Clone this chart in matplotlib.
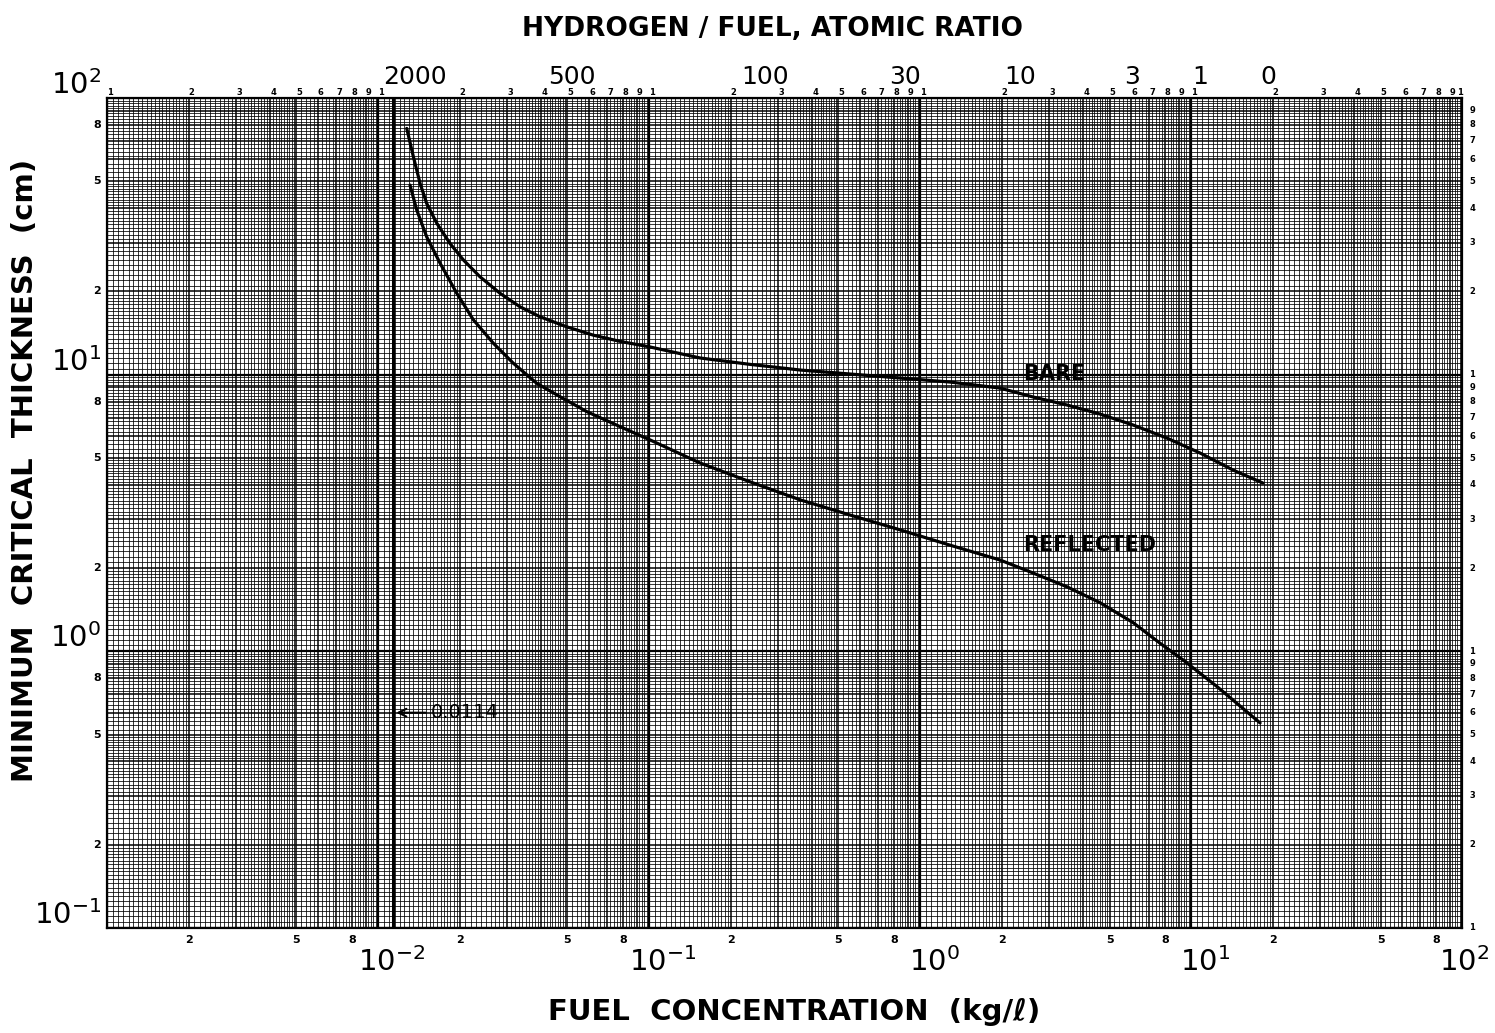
import numpy as np
import matplotlib
matplotlib.use('Agg')
import matplotlib.pyplot as plt

# critical thickness of an infinite slab vs fuel concentration
conc_bare = [0.01276, 0.01350, 0.01429, 0.01512, 0.01647, 0.01844, 0.02065,
             0.02378, 0.02819, 0.03342, 0.03961, 0.0497, 0.0623, 0.0782,
             0.1009, 0.154, 0.236, 0.361, 0.552, 0.843, 1.29, 1.97, 2.61,
             3.49, 4.61, 6.11, 8.15, 10.8, 14.3, 18.4]
thick_bare = [77.7, 61.4, 49.2, 41.6, 35.3, 29.8, 26.0,
              22.6, 19.7, 17.6, 16.2, 14.9, 13.9, 13.2,
              12.6, 11.5, 10.9, 10.4, 10.06, 9.73, 9.41, 8.95, 8.31,
              7.77, 7.21, 6.58, 5.90, 5.21, 4.52, 4.06]

conc_refl = [0.01312, 0.01389, 0.01512, 0.01694, 0.01952, 0.02247, 0.02663,
             0.03157, 0.03851, 0.04694, 0.059, 0.0782, 0.1009, 0.154, 0.236,
             0.361, 0.552, 0.843, 1.29, 1.97, 2.61, 3.49, 4.61, 6.11, 7.68,
             9.34, 12.5, 17.97]
thick_refl = [48.5, 39.4, 31.5, 25.3, 19.7, 15.8, 13.0,
              11.0, 9.31, 8.33, 7.35, 6.49, 5.81, 4.80, 4.10,
              3.53, 3.11, 2.75, 2.42, 2.14, 1.92, 1.71, 1.50, 1.27, 1.07,
              0.931, 0.744, 0.551]

# H/fuel atomic ratio scale along the top
ratio_labels = ['2000', '500', '100', '30', '10', '3', '1', '0']
ratio_conc = [0.0137, 0.052, 0.268, 0.88, 2.34, 6.05, 10.8, 19.2]

c_min = 0.0114
c_min_label = '0.0114'


def paper_lines(lo, hi):
    fine, heavy, decade = [], [], []
    for d in range(lo, hi):
        base = 10.0 ** d
        decade.append(base)
        for a, b, s in [(1, 2, 0.05), (2, 5, 0.1), (5, 10, 0.2)]:
            for m in np.round(np.arange(a, b, s), 2):
                if m == 1:
                    continue
                if abs(m - round(m)) < 1e-9:
                    heavy.append(m * base)
                else:
                    fine.append(m * base)
    decade.append(10.0 ** hi)
    return fine, heavy, decade


fig = plt.figure(figsize=(14.95, 10.33), dpi=100)
ax = fig.add_axes([0.0716, 0.1017, 0.9064, 0.8033])
ax.set_xscale('log')
ax.set_yscale('log')
ax.set_xlim(1e-3, 1e2)
ax.set_ylim(1e-1, 1e2)

xf, xh, xd = paper_lines(-3, 2)
yf, yh, yd = paper_lines(-1, 2)
ax.vlines(xf, 0.1, 100, color='k', lw=0.55)
ax.vlines(xh, 0.1, 100, color='k', lw=1.1)
ax.vlines(xd, 0.1, 100, color='k', lw=1.6)
ax.hlines(yf, 1e-3, 1e2, color='k', lw=0.55)
ax.hlines(yh, 1e-3, 1e2, color='k', lw=1.1)
ax.hlines(yd, 1e-3, 1e2, color='k', lw=1.6)

ax.tick_params(which='both', length=0, labelbottom=False, labelleft=False)
ax.minorticks_off()
for s in ax.spines.values():
    s.set_linewidth(1.6)

# limit line and curves
ax.axvline(c_min, color='k', lw=2.2)
ax.plot(conc_bare, thick_bare, color='k', lw=2.3, solid_capstyle='round',
        solid_joinstyle='round')
ax.plot(conc_refl, thick_refl, color='k', lw=2.3, solid_capstyle='round',
        solid_joinstyle='round')

ax.text(2.4, 10.1, 'BARE', fontsize=15, fontweight='bold', ha='left', va='center')
ax.text(2.4, 2.43, 'REFLECTED', fontsize=15, fontweight='bold', ha='left', va='center')
ax.annotate(c_min_label, xy=(c_min, 0.6), xytext=(0.0157, 0.6), fontsize=14,
            ha='left', va='center',
            arrowprops=dict(arrowstyle='->', lw=1.5, color='k'))

# decade labels
for n in range(-1, 3):
    ax.annotate('$10^{%d}$' % n, xy=(0, 10.0 ** n), xycoords=('axes fraction', 'data'),
                xytext=(-6, 13), textcoords='offset pixels',
                ha='right', va='center', fontsize=21)
for n in range(-2, 3):
    ax.annotate('$10^{%d}$' % n, xy=(10.0 ** n, 0), xycoords=('data', 'axes fraction'),
                xytext=(14 if n < 2 else 2, -34), textcoords='offset pixels',
                ha='center', va='center', fontsize=21)

# small printed digits of the log paper
for d in range(-3, 2):
    for m in [2, 5, 8]:
        ax.annotate(str(m), xy=(m * 10.0 ** d, 0), xycoords=('data', 'axes fraction'),
                    xytext=(0, -12), textcoords='offset pixels',
                    ha='center', va='center', fontsize=8, fontweight='bold')
    for m in range(1, 10):
        ax.annotate(str(m), xy=(m * 10.0 ** d, 1), xycoords=('data', 'axes fraction'),
                    xytext=(3, 6), textcoords='offset pixels',
                    ha='center', va='center', fontsize=6, fontweight='bold')
ax.annotate('1', xy=(1e2, 1), xycoords=('data', 'axes fraction'),
            xytext=(-2, 6), textcoords='offset pixels',
            ha='center', va='center', fontsize=6, fontweight='bold')
for d in range(-1, 2):
    for m in [2, 5, 8]:
        ax.annotate(str(m), xy=(0, m * 10.0 ** d), xycoords=('axes fraction', 'data'),
                    xytext=(-6, 0), textcoords='offset pixels',
                    ha='right', va='center', fontsize=8, fontweight='bold')
    for m in range(1, 10):
        ax.annotate(str(m), xy=(1, m * 10.0 ** d), xycoords=('axes fraction', 'data'),
                    xytext=(10, 0), textcoords='offset pixels',
                    ha='center', va='center', fontsize=6, fontweight='bold')

# top ratio scale
for lab, c in zip(ratio_labels, ratio_conc):
    ax.annotate(lab, xy=(c, 1), xycoords=('data', 'axes fraction'),
                xytext=(0, 21), textcoords='offset pixels',
                ha='center', va='center', fontsize=18)

fig.text(0.517, 0.972, 'HYDROGEN / FUEL, ATOMIC RATIO', fontsize=19,
         fontweight='bold', ha='center', va='center')
fig.text(0.531, 0.020, 'FUEL  CONCENTRATION  (kg/\u2113)', fontsize=21,
         fontweight='bold', ha='center', va='center')
fig.text(0.017, 0.545, 'MINIMUM  CRITICAL  THICKNESS  (cm)', fontsize=21,
         fontweight='bold', rotation=90, ha='center', va='center')

fig.savefig('out.png', dpi=100, facecolor='white')
